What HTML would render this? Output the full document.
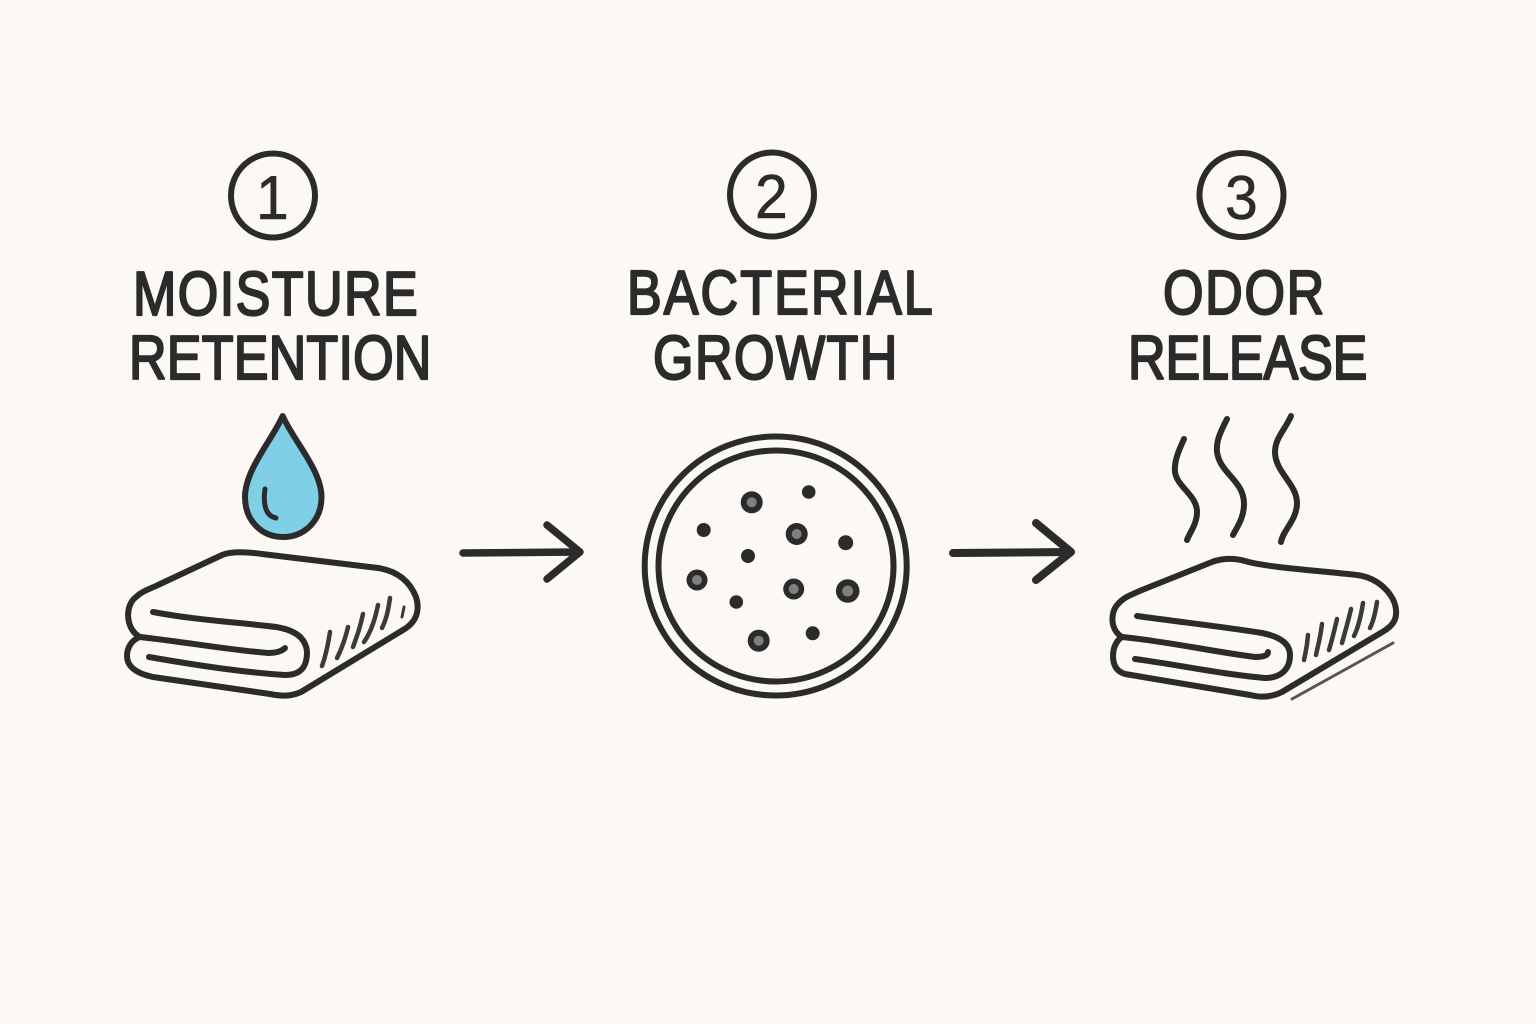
<!DOCTYPE html>
<html lang="en">
<head>
<meta charset="utf-8">
<title>Moisture retention, bacterial growth, odor release</title>
<style>
html,body{margin:0;padding:0;background:#fcf9f5}
svg{display:block}
.l{fill:none;stroke:#2b2b2b;stroke-width:6;stroke-linecap:round;stroke-linejoin:round}
.h{fill:none;stroke:#3a3a3a;stroke-width:4.5;stroke-linecap:round}
text{font-family:"Liberation Sans",sans-serif;font-size:62px;fill:#2b2b2b;stroke:#2b2b2b;stroke-width:2.2;stroke-linejoin:round;paint-order:stroke}
text.d{stroke-width:.6}
</style>
</head>
<body>
<svg width="1536" height="1024" viewBox="0 0 1536 1024" xmlns="http://www.w3.org/2000/svg">
<rect width="1536" height="1024" fill="#fcf9f5"/>

<!-- number badges -->
<circle class="l" cx="273" cy="195.5" r="42"/>
<circle class="l" cx="772" cy="194.5" r="42"/>
<circle class="l" cx="1241.5" cy="195" r="42"/>
<text class="d" transform="translate(256,219) scale(.95,1)">1</text>
<text class="d" transform="translate(755,218) scale(.95,1)">2</text>
<text class="d" transform="translate(1225,219) scale(.95,1)">3</text>

<!-- titles -->
<text transform="translate(133,315) scale(.84,1)" textLength="339" lengthAdjust="spacing">MOISTURE</text>
<text transform="translate(129,379) scale(.84,1)" textLength="360" lengthAdjust="spacing">RETENTION</text>
<text transform="translate(627,314) scale(.84,1)" textLength="364" lengthAdjust="spacing">BACTERIAL</text>
<text transform="translate(653,379) scale(.84,1)" textLength="291" lengthAdjust="spacing">GROWTH</text>
<text transform="translate(1163,314) scale(.84,1)" textLength="192" lengthAdjust="spacing">ODOR</text>
<text transform="translate(1128,379) scale(.84,1)" textLength="285" lengthAdjust="spacing">RELEASE</text>

<!-- drop -->
<path d="M282.7 416 C272 440 245 470 245 497 C245 522 263 537 283 537 C304 537 321.5 521 321.5 497 C321.5 470 293 440 282.7 416 Z" fill="#7fcfe6" stroke="#2b2b2b" stroke-width="6" stroke-linejoin="round"/>
<path class="h" style="stroke-width:5;stroke:#2b2b2b" d="M265 489 C263 503 265 516 276 518"/>

<!-- towel 1 -->
<path class="l" d="M140 637 C126 630 124 606 136 597 C142 591 150 589 158 585 L222 555 C232 551 248 552 262 554 L378 568 C398 571 410 582 416 597 C420 610 417 622 403 630 L301 692 C290 697 280 696 270 694 L153 677 C134 673 127 665 127 656 C127 647 132 640 140 637"/>
<path class="l" d="M140 637 C185 642 230 650 268 653 C275 653 281 652 285 648"/>
<path class="l" d="M153 612 C195 620 235 622 276 627 C295 630 306 638 307 652 C307 668 300 675 285 675 C240 672 195 665 149 657"/>
<path class="h" d="M330 632 C328 645 326 655 322 666"/>
<path class="h" d="M348 627 C345 640 342 648 337 658"/>
<path class="h" d="M363 614 C360 628 357 636 353 647"/>
<path class="h" d="M378 605 C375 620 371 632 364 642"/>
<path class="h" d="M390 598 C388 612 386 620 382 628"/>
<path class="h" style="stroke-width:3" d="M404 607 L402 617"/>

<!-- arrows -->
<path class="l" style="stroke-width:7.5" d="M463 553 L578 552 M547 525 L580 552 L547 579"/>
<path class="l" style="stroke-width:8" d="M953 553 L1069 552 M1036 523 L1071 552 L1036 580"/>

<!-- dish -->
<ellipse class="l" cx="775.7" cy="566" rx="131" ry="129.5"/>
<ellipse class="l" cx="776" cy="566" rx="117.5" ry="115.5"/>
<g fill="#2b2b2b">
<circle cx="751.7" cy="502.3" r="11"/><circle cx="808.7" cy="492" r="6.8"/>
<circle cx="703.7" cy="530" r="7"/><circle cx="796.7" cy="534" r="11"/>
<circle cx="845.7" cy="542.7" r="7.5"/><circle cx="748" cy="556" r="7"/>
<circle cx="697" cy="580" r="10.5"/><circle cx="793.7" cy="589" r="10.5"/>
<circle cx="847.7" cy="591" r="11.8"/><circle cx="736.3" cy="602" r="6.8"/>
<circle cx="758.7" cy="640.7" r="11"/><circle cx="812.7" cy="633.3" r="7"/>
</g>
<g fill="#7f7f7f">
<circle cx="751.7" cy="502.3" r="5"/><circle cx="796.7" cy="534" r="5"/>
<circle cx="697" cy="580" r="5"/><circle cx="793.7" cy="589" r="5"/>
<circle cx="847.7" cy="591" r="5.5"/><circle cx="758.7" cy="640.7" r="5"/>
</g>

<!-- steam -->
<path class="l" d="M1184 439 C1178 452 1174 462 1175 472 C1177 487 1197 495 1197 512 C1197 524 1190 532 1187 540"/>
<path class="l" d="M1227 419 C1221 431 1216 440 1217 452 C1220 474 1244 480 1244 504 C1244 518 1237 527 1233 535"/>
<path class="l" d="M1291 416 C1285 430 1275 438 1275 452 C1275 472 1297 484 1297 503 C1297 520 1283 530 1281 542"/>

<!-- towel 3 -->
<path class="l" d="M1122 637 C1110 630 1110 612 1118 604 C1124 597 1133 594 1142 590 L1212 562 C1222 558 1235 558 1245 561 C1265 567 1310 570 1357 575 C1380 578 1395 596 1396 610 C1397 620 1392 626 1384 631 L1282 692 C1272 697 1262 698 1250 695 L1125 674 C1115 671 1113 663 1113 656 C1113 647 1117 640 1122 637"/>
<path class="l" d="M1122 637 C1165 641 1215 652 1255 657 C1262 657 1268 656 1268 652"/>
<path class="l" d="M1137 616 C1180 622 1225 627 1262 633 C1282 637 1290 645 1290 655 C1290 670 1280 678 1265 678 C1220 674 1180 665 1135 659"/>
<path class="h" d="M1308 635 C1307 648 1306 650 1304 660"/>
<path class="h" d="M1322 624 C1320 640 1318 645 1316 655"/>
<path class="h" d="M1337 619 C1334 632 1332 640 1329 650"/>
<path class="h" d="M1351 609 C1348 622 1345 632 1342 643"/>
<path class="h" d="M1363 603 C1361 616 1358 628 1354 636"/>
<path class="h" d="M1377 602 C1375 615 1373 622 1370 628"/>
<path class="h" style="stroke-width:3;stroke:#555" d="M1393 643 L1292 699"/>
</svg>
</body>
</html>
